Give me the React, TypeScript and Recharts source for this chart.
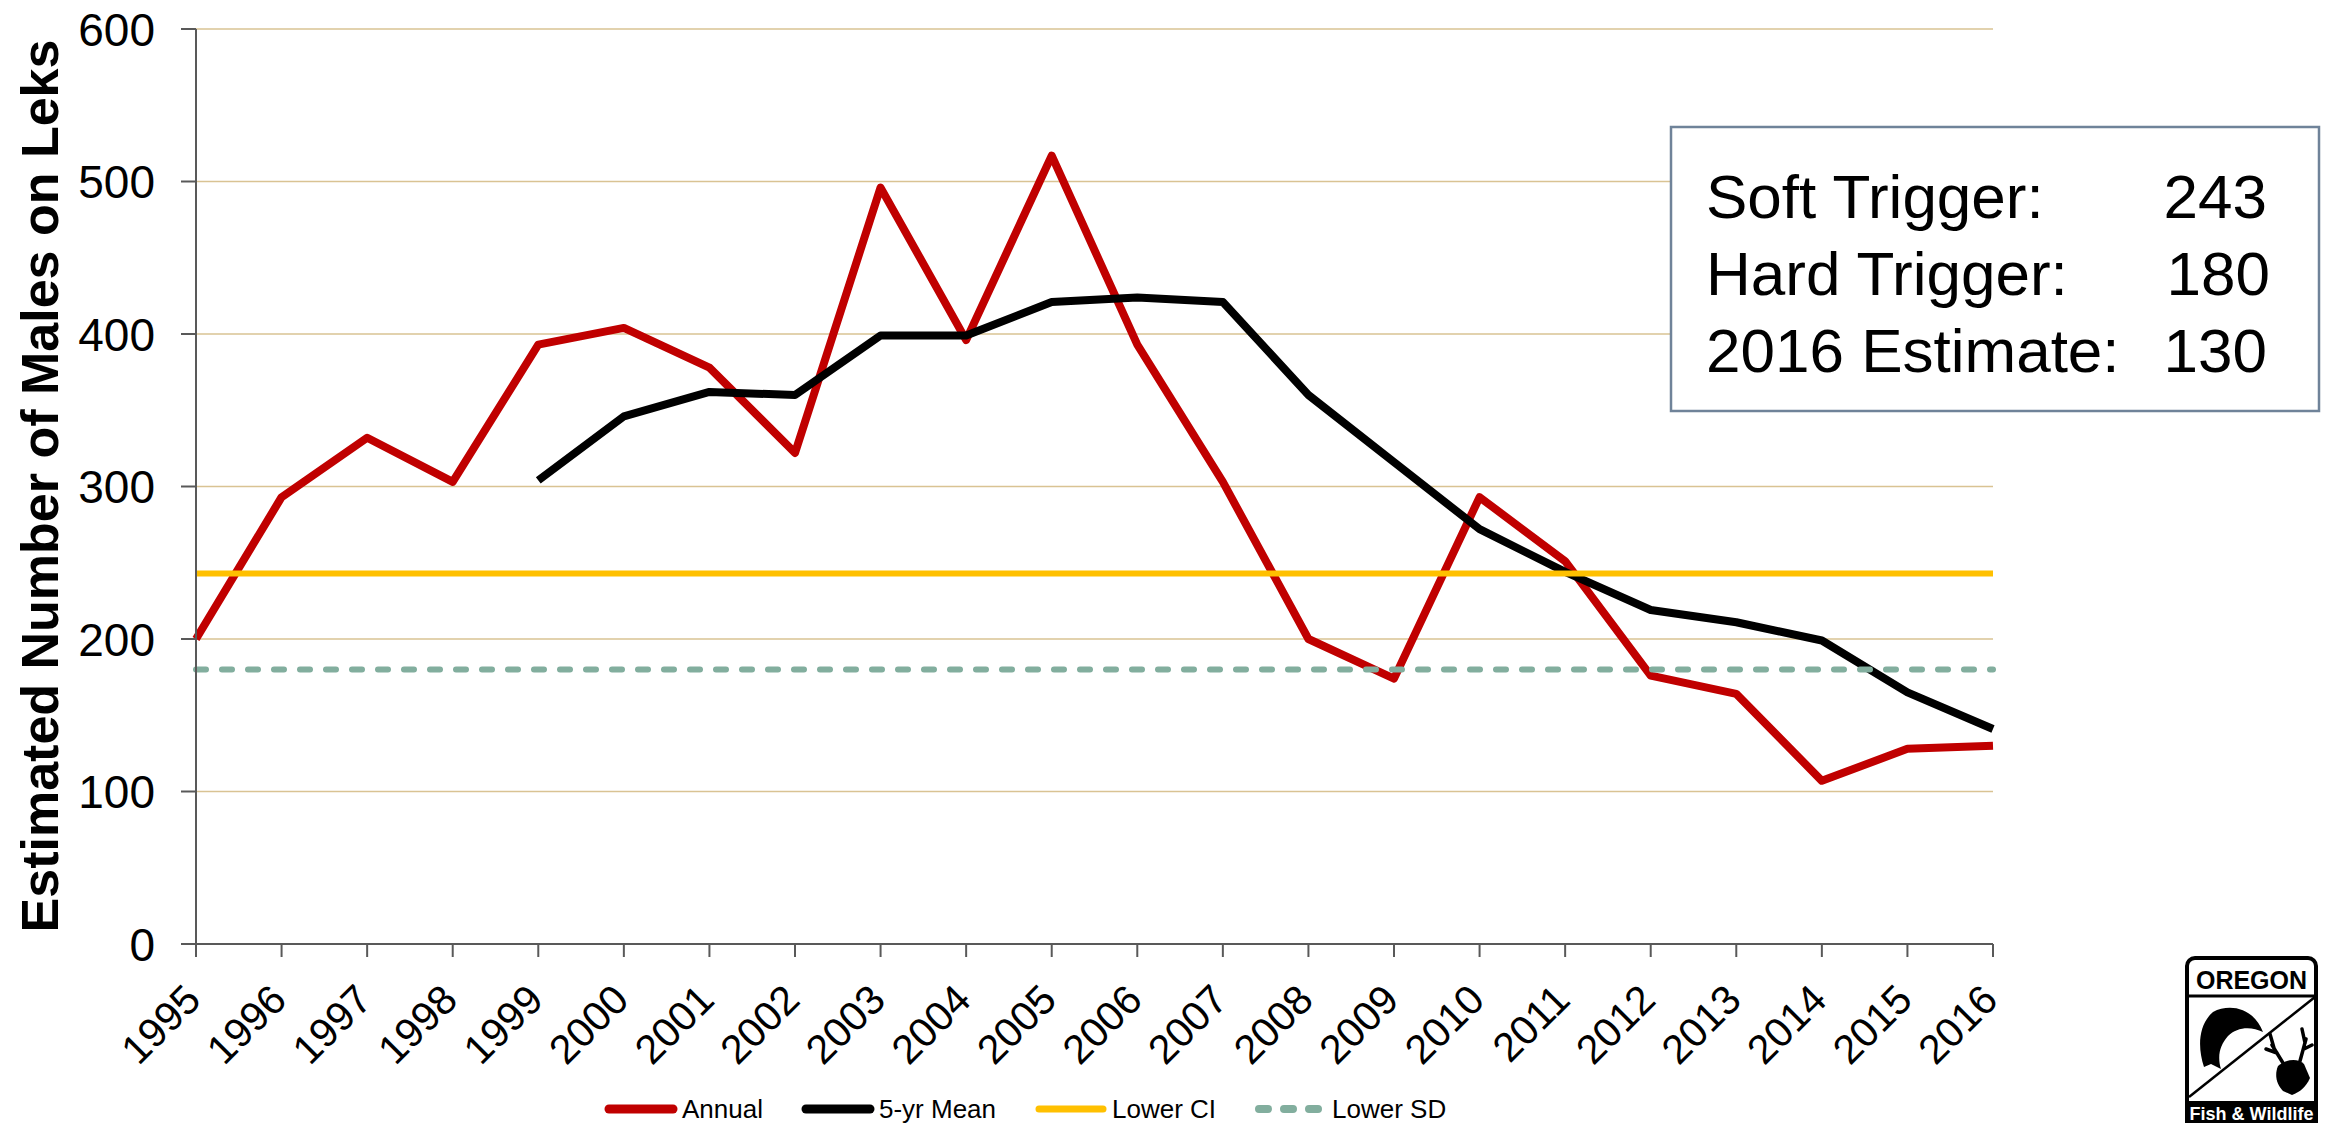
import React from 'react';
import { LineChart, Line, XAxis, YAxis, CartesianGrid, Legend } from 'recharts';

const years = ['1995','1996','1997','1998','1999','2000','2001','2002','2003','2004','2005','2006','2007','2008','2009','2010','2011','2012','2013','2014','2015','2016'];
const annual = [200, 293, 332, 303, 393, 404, 378, 322, 496, 396, 517, 393, 303, 200, 174, 293, 251, 176, 164, 107, 128, 130];
const fiveYrMean = [null, null, null, null, 304, 346, 362, 360, 399, 399, 421, 424, 421, 360, 316, 272, 244, 219, 211, 199, 165, 141];
const lowerCI = [243, 243, 243, 243, 243, 243, 243, 243, 243, 243, 243, 243, 243, 243, 243, 243, 243, 243, 243, 243, 243, 243];
const lowerSD = [180, 180, 180, 180, 180, 180, 180, 180, 180, 180, 180, 180, 180, 180, 180, 180, 180, 180, 180, 180, 180, 180];
const yTicks = [0, 100, 200, 300, 400, 500, 600];
const seriesNames = ['Annual', '5-yr Mean', 'Lower CI', 'Lower SD'];
const boxLabels = ['Soft Trigger:', 'Hard Trigger:', '2016 Estimate:'];
const boxValues = ['243', '180', '130'];

const data = years.map((y, i) => ({
  year: y,
  annual: annual[i],
  mean: fiveYrMean[i],
  ci: lowerCI[i],
  sd: lowerSD[i],
}));

const FONT = "'Liberation Sans', Arial, sans-serif";

const XTick = (props: any) => {
  const { x, y, payload } = props;
  return (
    <g transform={`translate(${x + 7},${y + 45})`}>
      <text x={0} y={0} textAnchor="end" transform="rotate(-45)" fontSize={41} fontFamily={FONT} fill="#000">
        {payload.value}
      </text>
    </g>
  );
};

const YTick = (props: any) => {
  const { y, payload } = props;
  return (
    <text x={155} y={y} dy="0.36em" textAnchor="end" fontSize={46} fontFamily={FONT} fill="#000">
      {payload.value}
    </text>
  );
};

const LegendContent = (props: any) => {
  const payload = [...(props.payload || [])].sort(
    (a: any, b: any) => seriesNames.indexOf(a.value) - seriesNames.indexOf(b.value)
  );
  return (
    <div style={{ display: 'flex', alignItems: 'center', paddingLeft: 604, height: 40, fontFamily: FONT, fontSize: 26, color: '#000' }}>
      {payload.map((entry: any, i: number) => {
        const dashed = entry.payload && entry.payload.strokeDasharray;
        const w = entry.color === '#FFC000' ? 7 : 9;
        return (
          <div key={i} style={{ display: 'flex', alignItems: 'center', marginRight: 38 }}>
            <svg width={74} height={14}>
              <line x1={5} y1={7} x2={69} y2={7} stroke={entry.color} strokeWidth={dashed ? 8 : w} strokeLinecap="round" strokeDasharray={dashed ? '9 16' : undefined} />
            </svg>
            <span style={{ marginLeft: 4 }}>{entry.value}</span>
          </div>
        );
      })}
    </div>
  );
};

const Logo = () => (
  <g>
    <rect x={2187} y={958} width={129} height={180} rx={8} fill="#fff" stroke="#000" strokeWidth={4} />
    <text x={2251.5} y={989} textAnchor="middle" fontSize={25} fontWeight="bold" fontFamily={FONT} fill="#000">OREGON</text>
    <line x1={2187} y1={996} x2={2316} y2={996} stroke="#000" strokeWidth={3} />
    <line x1={2189} y1={1097} x2={2315} y2={997} stroke="#000" strokeWidth={2.5} />
    <path d="M2204,1067 C2197,1046 2199,1024 2213,1012 C2230,1003 2254,1008 2263,1032 C2251,1026 2237,1027 2228,1036 C2220,1045 2217,1056 2221,1069 L2211,1064 Z" fill="#000" />
    <path d="M2278,1066 C2286,1059 2298,1058 2304,1064 L2310,1078 C2306,1087 2300,1092 2292,1095 L2283,1091 C2277,1085 2274,1076 2278,1066 Z" fill="#000" />
    <path d="M2283,1063 L2272,1045 M2277,1053 L2266,1049 M2274,1048 L2270,1034 M2300,1061 L2306,1039 M2304,1049 L2312,1045 M2305,1043 L2302,1029" stroke="#000" strokeWidth={3.5} fill="none" strokeLinecap="round" />
    <rect x={2187} y={1101} width={129} height={24} fill="#000" />
    <text x={2251.5} y={1120} textAnchor="middle" fontSize={18} fontWeight="bold" fontFamily={FONT} fill="#fff">Fish &amp; Wildlife</text>
  </g>
);

export default function App() {
  return (
    <div style={{ position: 'absolute', left: 0, top: 0, width: 2326, height: 1123, background: '#fff' }}>
      <LineChart width={2326} height={1123} data={data} margin={{ top: 29, right: 333, bottom: 0, left: 0 }}>
        <CartesianGrid vertical={false} stroke="#D9C393" strokeWidth={1.5} />
        <XAxis
          dataKey="year"
          height={179}
          interval={0}
          tick={<XTick />}
          tickSize={13}
          tickMargin={0}
          axisLine={{ stroke: '#595959', strokeWidth: 2 }}
          tickLine={{ stroke: '#595959', strokeWidth: 2 }}
        />
        <YAxis
          width={196}
          domain={[0, 600]}
          ticks={yTicks}
          interval={0}
          tick={<YTick />}
          tickSize={15}
          axisLine={{ stroke: '#595959', strokeWidth: 2 }}
          tickLine={{ stroke: '#595959', strokeWidth: 2 }}
          label={{
            content: () => (
              <text x={58} y={486} transform="rotate(-90 58 486)" textAnchor="middle" fontSize={52} fontWeight="bold" fontFamily={FONT} fill="#000">
                Estimated Number of Males on Leks
              </text>
            ),
          }}
        />
        <Legend
          layout="horizontal"
          verticalAlign="middle"
          align="center"
          content={<LegendContent />}
          wrapperStyle={{ left: 0, top: 1089, width: 2326, height: 40 }}
        />
        <Line name={seriesNames[0]} dataKey="annual" stroke="#C00000" strokeWidth={8} dot={false} activeDot={false} strokeLinejoin="round" isAnimationActive={false} />
        <Line name={seriesNames[1]} dataKey="mean" stroke="#000000" strokeWidth={8} dot={false} activeDot={false} strokeLinejoin="round" isAnimationActive={false} />
        <Line name={seriesNames[2]} dataKey="ci" stroke="#FFC000" strokeWidth={6} dot={false} activeDot={false} isAnimationActive={false} />
        <Line name={seriesNames[3]} dataKey="sd" stroke="#82AE9E" strokeWidth={6} strokeDasharray="10 16" strokeLinecap="round" dot={false} activeDot={false} isAnimationActive={false} />
      </LineChart>
      <svg width={2326} height={1123} style={{ position: 'absolute', left: 0, top: 0, pointerEvents: 'none' }}>
        <rect x={1671} y={127} width={648} height={284} fill="#fff" stroke="#6F8399" strokeWidth={2.5} />
        {boxLabels.map((t, i) => (
          <text key={t} x={1706} y={218 + i * 77} fontSize={62} fontFamily={FONT} fill="#000">{t}</text>
        ))}
        {boxValues.map((v, i) => (
          <text key={i} x={i === 1 ? 2270 : 2267} y={218 + i * 77} textAnchor="end" fontSize={62} fontFamily={FONT} fill="#000">{v}</text>
        ))}
        <Logo />
      </svg>
    </div>
  );
}
